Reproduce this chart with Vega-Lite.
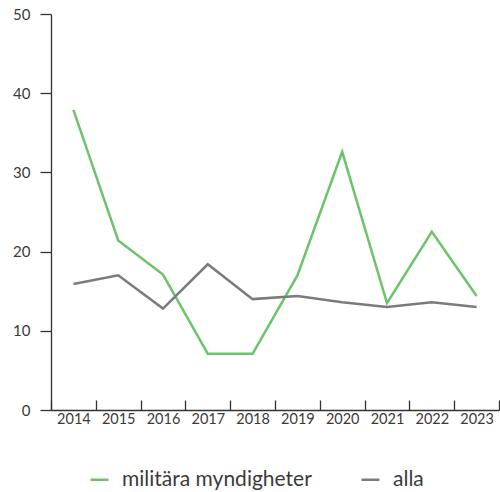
{
  "$schema": "https://vega.github.io/schema/vega-lite/v6.json",
  "width": 448,
  "height": 396,
  "autosize": {"type": "none"},
  "padding": {"left": 51, "top": 14, "right": 1, "bottom": 82},
  "background": "white",
  "config": {
    "font": "Lato",
    "view": {"stroke": null},
    "axis": {"labelFont": "Lato", "labelColor": "#3a3a3a", "domainColor": "#333333", "tickColor": "#333333", "grid": false, "title": null}
  },
  "data": {
    "values": [
      {"year": "2014", "series": "militära myndigheter", "value": 37.9},
      {"year": "2015", "series": "militära myndigheter", "value": 21.4},
      {"year": "2016", "series": "militära myndigheter", "value": 17.1},
      {"year": "2017", "series": "militära myndigheter", "value": 7.1},
      {"year": "2018", "series": "militära myndigheter", "value": 7.1},
      {"year": "2019", "series": "militära myndigheter", "value": 17.0},
      {"year": "2020", "series": "militära myndigheter", "value": 32.6},
      {"year": "2021", "series": "militära myndigheter", "value": 13.5},
      {"year": "2022", "series": "militära myndigheter", "value": 22.5},
      {"year": "2023", "series": "militära myndigheter", "value": 14.4},
      {"year": "2014", "series": "alla", "value": 15.9},
      {"year": "2015", "series": "alla", "value": 17.0},
      {"year": "2016", "series": "alla", "value": 12.8},
      {"year": "2017", "series": "alla", "value": 18.4},
      {"year": "2018", "series": "alla", "value": 14.0},
      {"year": "2019", "series": "alla", "value": 14.4},
      {"year": "2020", "series": "alla", "value": 13.6},
      {"year": "2021", "series": "alla", "value": 13.0},
      {"year": "2022", "series": "alla", "value": 13.6},
      {"year": "2023", "series": "alla", "value": 13.0}
    ]
  },
  "mark": {"type": "line", "strokeWidth": 2.5},
  "encoding": {
    "x": {
      "field": "year", "type": "ordinal",
      "scale": {"type": "band", "paddingInner": 0, "paddingOuter": 0},
      "axis": {"labelAngle": 0, "labelFontSize": 14.5, "tickSize": -10, "tickBand": "extent", "labelPadding": 12, "domainWidth": 1.3, "tickWidth": 1.3}
    },
    "y": {
      "field": "value", "type": "quantitative",
      "scale": {"domain": [0, 50]},
      "axis": {"values": [0, 10, 20, 30, 40, 50], "labelFontSize": 15, "tickSize": 11, "labelPadding": 10, "domainWidth": 1.3, "tickWidth": 1.3}
    },
    "color": {
      "field": "series", "type": "nominal",
      "scale": {"domain": ["militära myndigheter", "alla"], "range": ["#6cc46a", "#7b7b7f"]},
      "legend": {
        "title": null, "orient": "none", "direction": "horizontal",
        "legendX": 38, "legendY": 455,
        "symbolType": "stroke", "symbolSize": 324, "symbolStrokeWidth": 2.5,
        "labelFontSize": 21, "labelColor": "#3a3a3a", "labelFont": "Lato",
        "labelOffset": 12, "columnPadding": 44, "labelLimit": 0
      }
    }
  }
}
